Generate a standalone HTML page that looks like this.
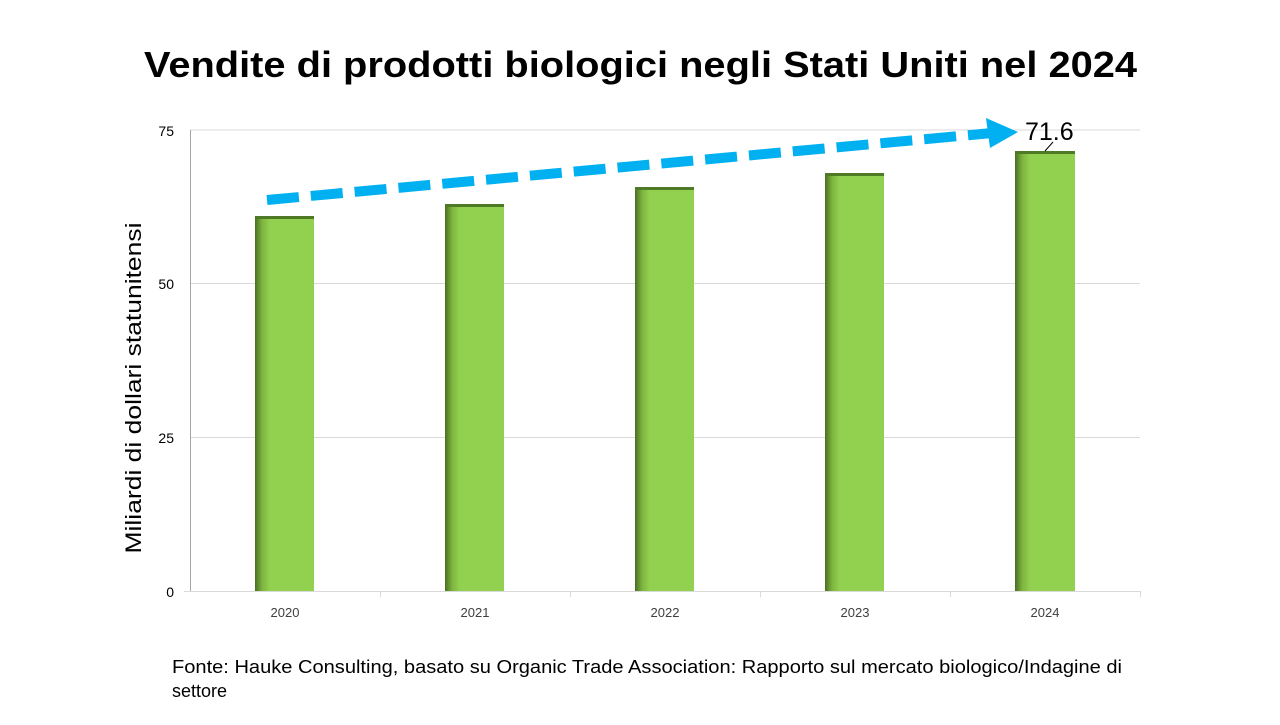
<!DOCTYPE html>
<html><head><meta charset="utf-8"><style>
body{margin:0;width:1280px;height:720px;background:#fff;overflow:hidden;font-family:"Liberation Sans",sans-serif;}
</style></head><body>
<svg width="1280" height="720" xmlns="http://www.w3.org/2000/svg">
<defs>
<linearGradient id="g" x1="0" x2="1" y1="0" y2="0">
<stop offset="0" stop-color="#4a6e22"/><stop offset="0.12" stop-color="#7db43f"/><stop offset="0.25" stop-color="#92D050"/><stop offset="1" stop-color="#92D050"/>
</linearGradient>
</defs>
<text x="144" y="77" textLength="993" lengthAdjust="spacingAndGlyphs" font-size="36" font-weight="bold" fill="#000">Vendite di prodotti biologici negli Stati Uniti nel 2024</text>
<g stroke="#d9d9d9" stroke-width="1">
<line x1="190" y1="130" x2="1140" y2="130"/><line x1="190" y1="283.5" x2="1140" y2="283.5"/><line x1="190" y1="437.5" x2="1140" y2="437.5"/>
</g>
<line x1="190.5" y1="130" x2="190.5" y2="591" stroke="#a6a6a6"/>
<line x1="184" y1="591.5" x2="1140" y2="591.5" stroke="#d9d9d9"/>
<g stroke="#d9d9d9"><line x1="380.5" y1="591" x2="380.5" y2="597"/><line x1="570.5" y1="591" x2="570.5" y2="597"/><line x1="760.5" y1="591" x2="760.5" y2="597"/><line x1="950.5" y1="591" x2="950.5" y2="597"/><line x1="1140.5" y1="591" x2="1140.5" y2="597"/></g>
<g font-size="14" fill="#000" text-anchor="end">
<text x="174" y="136">75</text><text x="174" y="289">50</text><text x="174" y="443">25</text><text x="174" y="597">0</text>
</g>
<g font-size="13" fill="#404040" text-anchor="middle">
<text x="285" y="617">2020</text><text x="475" y="617">2021</text><text x="665" y="617">2022</text><text x="855" y="617">2023</text><text x="1045" y="617">2024</text>
</g>
<g fill="url(#g)">
<rect x="255" y="217" width="59" height="374"/><rect x="445" y="205" width="59" height="386"/><rect x="635" y="188" width="59" height="403"/><rect x="825" y="174" width="59" height="417"/><rect x="1015" y="152" width="60" height="439"/>
</g>
<g fill="#4f7a25">
<rect x="255" y="216" width="59" height="3"/><rect x="445" y="204" width="59" height="3"/><rect x="635" y="187" width="59" height="3"/><rect x="825" y="173" width="59" height="3"/><rect x="1015" y="151" width="60" height="3"/>
</g>
<text x="141" y="388" transform="rotate(-90 141 388)" text-anchor="middle" font-size="22" textLength="331" lengthAdjust="spacingAndGlyphs" fill="#000">Miliardi di dollari statunitensi</text>
<line x1="267" y1="200" x2="992" y2="133" stroke="#00b0f0" stroke-width="10" stroke-dasharray="32,12"/>
<polygon points="986,118 1018,132 990,148" fill="#00b0f0"/>
<text x="1025" y="140" font-size="25" fill="#000">71.6</text>
<line x1="1045" y1="151" x2="1053" y2="142" stroke="#000" stroke-width="1"/>
<text x="172" y="673" font-size="18" textLength="950" lengthAdjust="spacingAndGlyphs" fill="#000">Fonte: Hauke Consulting, basato su Organic Trade Association: Rapporto sul mercato biologico/Indagine di</text>
<text x="172" y="697" font-size="18" fill="#000">settore</text>
</svg>
</body></html>
